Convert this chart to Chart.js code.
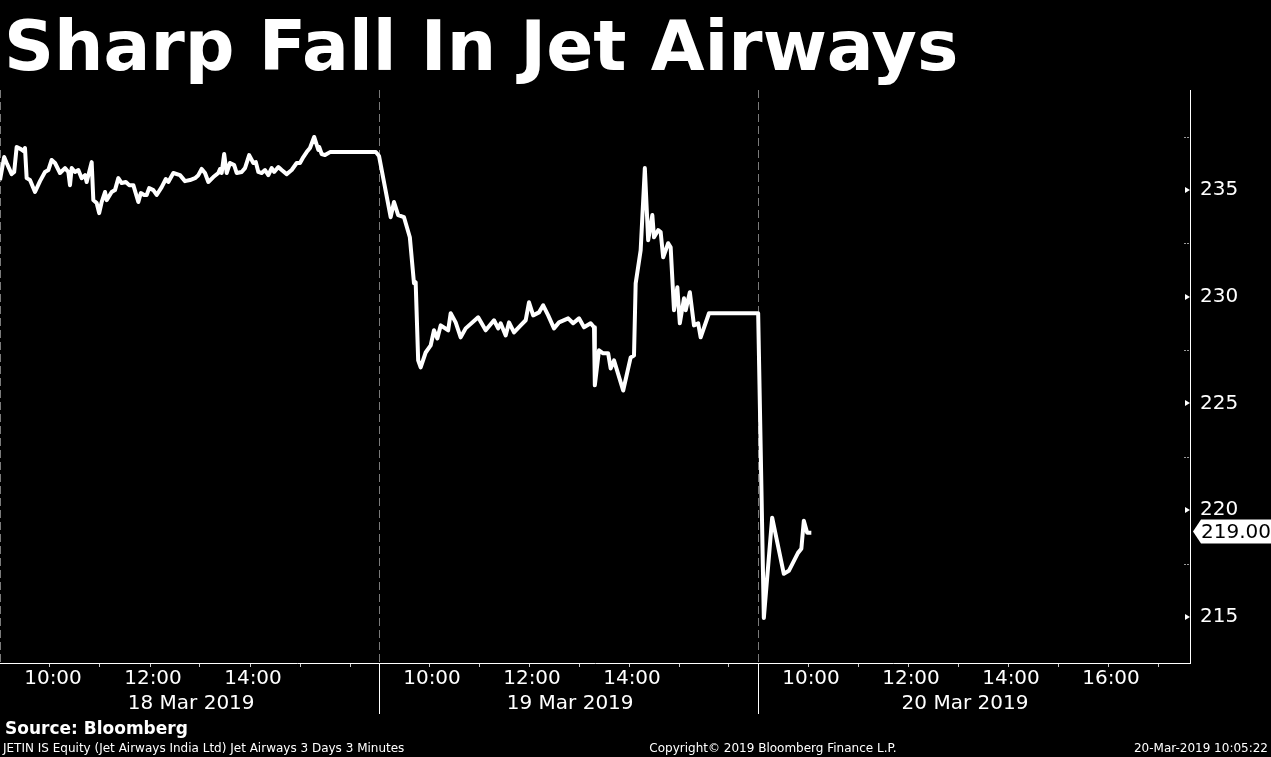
<!DOCTYPE html>
<html>
<head>
<meta charset="utf-8">
<script src="https://cdn.jsdelivr.net/npm/chart.js@4"></script>
<style>
  html, body { margin: 0; padding: 0; background: #000; }
  #wrap { position: absolute; left: 0; top: 0; width: 1271px; height: 757px; }
</style>
</head>
<body>
<div id="wrap"><canvas id="jetChart"></canvas></div>
<script>
// JETIN IS Equity, 3-minute bars over 3 sessions (time of day, price in INR)
const day1Times = ["09:00","09:05","09:08","09:14","09:17","09:20","09:25","09:28","09:30","09:32",
  "09:36","09:42","09:48","09:54","09:58","10:02","10:06","10:12","10:18","10:22",
  "10:24","10:26","10:30","10:34","10:38","10:42","10:44","10:50","10:52","10:56",
  "10:59","11:02","11:06","11:08","11:14","11:18","11:22","11:26","11:31","11:35",
  "11:40","11:46","11:49","11:53","11:56","11:59","12:04","12:08","12:14","12:19",
  "12:22","12:28","12:36","12:42","12:48","12:54","12:58","13:02","13:06","13:10",
  "13:16","13:22","13:24","13:26","13:29","13:32","13:36","13:41","13:44","13:50",
  "13:54","13:59","14:04","14:07","14:10","14:14","14:18","14:22","14:26","14:29",
  "14:34","14:38","14:44","14:50","14:56","15:00","15:04","15:08","15:12","15:17",
  "15:22","15:23","15:26","15:30","15:36","16:31"];
const day1Prices = [235.47,236.55,236.27,235.75,235.85,237.02,236.92,236.83,236.97,235.56,
  235.47,234.91,235.42,235.85,235.94,236.41,236.27,235.8,236.03,235.85,
  235.23,236.03,235.85,235.94,235.56,235.7,235.38,236.31,234.53,234.39,
  233.92,234.44,234.91,234.53,234.91,235.0,235.56,235.33,235.38,235.23,
  235.23,234.44,234.86,234.77,234.77,235.09,235.0,234.77,235.14,235.52,
  235.38,235.8,235.7,235.42,235.47,235.56,235.7,235.99,235.8,235.38,
  235.61,235.8,235.99,235.8,236.69,235.8,236.27,236.17,235.8,235.85,
  236.03,236.64,236.27,236.31,235.85,235.8,235.94,235.7,236.03,235.85,
  236.08,235.94,235.75,235.94,236.27,236.27,236.55,236.78,236.97,237.49,
  236.88,237.02,236.69,236.64,236.78,236.78];

const day2Times = ["09:00","09:14","09:18","09:23","09:30","09:37","09:42","09:44","09:47","09:50",
  "09:56","10:02","10:06","10:10","10:14","10:23","10:26","10:32","10:38","10:44",
  "10:59","11:08","11:18","11:23","11:26","11:32","11:36","11:42","11:50","11:56",
  "12:00","12:05","12:12","12:17","12:23","12:30","12:36","12:47","12:53","13:00",
  "13:06","13:14","13:18","13:19","13:24","13:29","13:35","13:38","13:42","13:53",
  "14:02","14:06","14:08","14:14","14:19","14:23","14:28","14:30","14:35","14:38",
  "14:41","14:47","14:50","14:54","14:58","15:01","15:06","15:08","15:13","15:18",
  "15:23","15:26","15:36","16:35"];
const day2Prices = [236.6,233.73,234.44,233.83,233.73,232.79,230.63,230.68,227.02,226.69,
  227.39,227.72,228.43,228.05,228.66,228.43,229.23,228.8,228.1,228.52,
  229.04,228.43,228.9,228.52,228.76,228.19,228.8,228.33,228.66,228.9,
  229.74,229.13,229.27,229.6,229.13,228.52,228.8,228.99,228.76,228.99,
  228.57,228.76,228.57,225.85,227.49,227.35,227.35,226.64,227.02,225.61,
  227.16,227.25,230.63,232.18,236.03,232.65,233.83,232.79,233.12,233.03,
  231.85,232.51,232.32,229.37,230.45,228.76,229.93,229.37,230.21,228.66,
  228.76,228.1,229.23,229.23];

const day3Times = ["09:07","09:17","09:31","09:37","09:48","09:52","09:55","09:59","10:04"];
const day3Prices = [214.95,219.65,217.02,217.16,218.0,218.19,219.51,218.94,218.94];

const dateLabels = ["18 Mar 2019", "19 Mar 2019", "20 Mar 2019"];
const dateLabelTimes = ["12:47", "12:47", "13:06"];
const priceTicks = [215, 217.5, 220, 222.5, 225, 227.5, 230, 232.5, 235, 237.5];
const lastPrice = 219.00;

// each session is laid end to end: 09:00 to ~16:35
const DAY_START = 9;
const DAY_LEN = 7.58;
const X_MAX = 2 * DAY_LEN + 8.64;

function toX(day, t) {
  const [h, m] = t.split(":").map(Number);
  return day * DAY_LEN + (h + m / 60 - DAY_START);
}

function buildPoints() {
  const pts = [];
  [[day1Times, day1Prices], [day2Times, day2Prices], [day3Times, day3Prices]].forEach(([times, prices], d) => {
    times.forEach((t, i) => pts.push({ x: toX(d, t), y: prices[i] }));
  });
  return pts;
}

function hourTicks() {
  const ticks = [];
  for (let d = 0; d < 3; d++) {
    const lastHour = d < 2 ? 16 : 17;
    for (let h = 10; h <= lastHour; h++) {
      ticks.push({ value: d * DAY_LEN + (h - DAY_START), hour: h, day: d });
    }
  }
  return ticks;
}

// ======================
// DECORATIONS
// ======================
const decor = {
  id: "decor",
  beforeDatasetsDraw(chart) {
    const { ctx, chartArea, scales } = chart;
    ctx.save();
    ctx.strokeStyle = "#7a7a7a";
    ctx.lineWidth = 1;
    ctx.setLineDash([8, 4]);
    [0, 1, 2].forEach((d) => {
      const x = Math.round(scales.x.getPixelForValue(d * DAY_LEN)) + 0.5;
      ctx.beginPath();
      ctx.moveTo(x, chartArea.top);
      ctx.lineTo(x, chartArea.bottom);
      ctx.stroke();
    });
    ctx.restore();
  },
  afterDraw(chart) {
    const { ctx, chartArea, scales } = chart;
    ctx.save();

    // price ticks sit inside the axis line
    const ax = chartArea.right;
    priceTicks.forEach((v) => {
      const py = Math.round(scales.y.getPixelForValue(v));
      if (v % 5 === 0) {
        ctx.fillStyle = "#ffffff";
        ctx.beginPath();
        ctx.moveTo(ax, py);
        ctx.lineTo(ax - 5, py - 3);
        ctx.lineTo(ax - 5, py + 3);
        ctx.closePath();
        ctx.fill();
      } else {
        ctx.fillStyle = "#9a9a9a";
        ctx.fillRect(ax - 6, py, 2, 1);
        ctx.fillRect(ax - 3, py, 2, 1);
      }
    });

    // session separators under the axis
    ctx.strokeStyle = "#ffffff";
    ctx.lineWidth = 1;
    [1, 2].forEach((d) => {
      const x = Math.round(scales.x.getPixelForValue(d * DAY_LEN)) + 0.5;
      ctx.beginPath();
      ctx.moveTo(x, chartArea.bottom);
      ctx.lineTo(x, chartArea.bottom + 51);
      ctx.stroke();
    });

    // date labels
    ctx.fillStyle = "#ffffff";
    ctx.font = "20px 'DejaVu Sans'";
    ctx.textAlign = "center";
    ctx.textBaseline = "middle";
    dateLabels.forEach((lbl, d) => {
      ctx.fillText(lbl, scales.x.getPixelForValue(toX(d, dateLabelTimes[d])) + 2, chartArea.bottom + 41);
    });

    // last price tag
    const y = scales.y.getPixelForValue(lastPrice);
    const x0 = chartArea.right + 3;
    ctx.fillStyle = "#ffffff";
    ctx.beginPath();
    ctx.moveTo(x0, y);
    ctx.lineTo(x0 + 8, y - 12);
    ctx.lineTo(1271, y - 12);
    ctx.lineTo(1271, y + 12);
    ctx.lineTo(x0 + 8, y + 12);
    ctx.closePath();
    ctx.fill();
    ctx.fillStyle = "#000000";
    ctx.textAlign = "left";
    ctx.fillText(lastPrice.toFixed(2), x0 + 8, y + 1);

    // title and footer
    ctx.fillStyle = "#ffffff";
    ctx.textBaseline = "alphabetic";
    ctx.font = "bold 69.5px 'DejaVu Sans'";
    ctx.fillText("Sharp Fall In Jet Airways", 4, 70);
    ctx.font = "bold 17px 'DejaVu Sans'";
    ctx.fillText("Source: Bloomberg", 5, 734);
    ctx.font = "12px 'DejaVu Sans'";
    ctx.fillText("JETIN IS Equity (Jet Airways India Ltd) Jet Airways 3 Days 3 Minutes", 3, 752);
    ctx.textAlign = "center";
    ctx.fillText("Copyright\u00a9 2019 Bloomberg Finance L.P.", 773, 752);
    ctx.textAlign = "right";
    ctx.fillText("20-Mar-2019 10:05:22", 1268, 752);
    ctx.restore();
  },
};

// ======================
// CHART
// ======================
new Chart(document.getElementById("jetChart").getContext("2d"), {
  type: "line",
  data: {
    datasets: [
      {
        data: buildPoints(),
        borderColor: "#ffffff",
        borderWidth: 4,
        borderJoinStyle: "round",
        pointRadius: 0,
        tension: 0,
      },
    ],
  },
  options: {
    responsive: true,
    maintainAspectRatio: false,
    animation: false,
    layout: { padding: { top: 90, left: 0, right: 0, bottom: 0 } },
    plugins: { legend: { display: false }, tooltip: { enabled: false } },
    scales: {
      x: {
        type: "linear",
        min: 0,
        max: X_MAX,
        afterBuildTicks: (scale) => { scale.ticks = hourTicks(); },
        afterFit: (scale) => { scale.height = 94; },
        ticks: {
          autoSkip: false,
          maxRotation: 0,
          color: "#ffffff",
          font: { family: "DejaVu Sans", size: 20 },
          padding: 0,
          labelOffset: 3,
          callback: (value, i, ticks) => {
            const t = ticks[i];
            if (t.hour % 2 !== 0) return "";
            if (t.hour === 16 && t.day < 2) return "";
            return t.hour + ":00";
          },
        },
        grid: { drawOnChartArea: false, drawTicks: true, tickLength: 4, color: "#cccccc" },
        border: { color: "#ffffff", width: 1 },
      },
      y: {
        position: "right",
        min: 212.84,
        max: 239.69,
        afterBuildTicks: (scale) => { scale.ticks = priceTicks.map((v) => ({ value: v })); },
        afterFit: (scale) => { scale.width = 81; },
        ticks: {
          autoSkip: false,
          color: "#ffffff",
          font: { family: "DejaVu Sans", size: 20 },
          padding: 10,
          callback: (value) => (value % 5 === 0 ? String(value) : ""),
        },
        grid: { drawOnChartArea: false, drawTicks: false },
        border: { color: "#ffffff", width: 1 },
      },
    },
  },
  plugins: [decor],
});
</script>
</body>
</html>
